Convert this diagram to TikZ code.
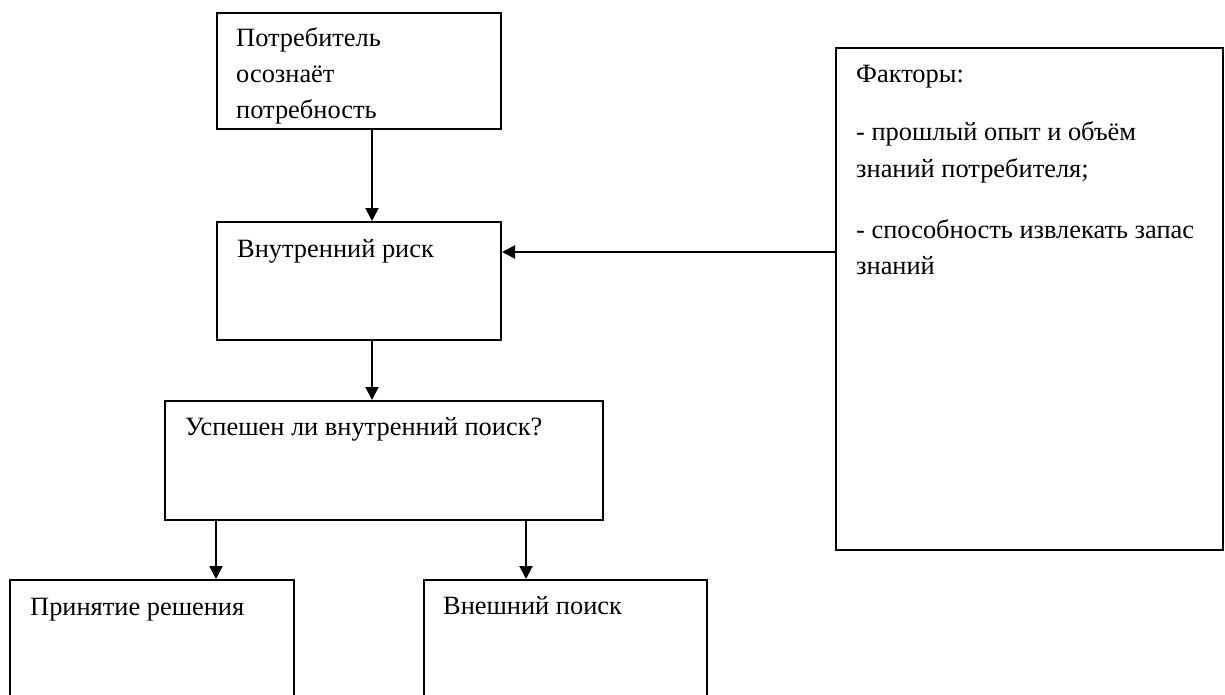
\documentclass[tikz,border=0pt]{standalone}
\usepackage{fontspec}
\setmainfont{Liberation Serif}
\usetikzlibrary{arrows.meta}
\begin{document}
\begin{tikzpicture}[x=1pt,y=-1pt,
  box/.style={draw=black, line width=2pt, inner sep=0pt, anchor=north west},
  txt/.style={anchor=base west, inner sep=0pt, font=\fontsize{26.4}{36}\selectfont},
  link/.style={line width=2pt, -{Triangle[length=13pt,width=13pt]}}]
\useasboundingbox (0,0) rectangle (1225,694);
\clip (0,0) rectangle (1225,694);
\fill[white] (0,0) rectangle (1225,694);

% boxes
\node[box, minimum width=284pt, minimum height=116pt] (need) at (216,12) {};
\node[box, minimum width=284pt, minimum height=118pt] (risk) at (216,221) {};
\node[box, minimum width=438pt, minimum height=119pt] (search) at (164,400) {};
\node[box, minimum width=284pt, minimum height=140pt] (decide) at (9,579) {};
\node[box, minimum width=283pt, minimum height=140pt] (external) at (423,579) {};
\node[box, minimum width=387pt, minimum height=502pt] (factors) at (835,47) {};

% texts
\node[txt] (t1a) at (236,46) {Потребитель};
\node[txt] (t1b) at (236,82) {осознаёт};
\node[txt] (t1c) at (236,118) {потребность};
\node[txt] (t2) at (237,257) {Внутренний риск};
\node[txt] (t3) at (185,435) {Успешен ли внутренний поиск?};
\node[txt] (t4) at (30,615) {Принятие решения};
\node[txt] (t5) at (443,614) {Внешний поиск};
\node[txt] (f0) at (856,82) {Факторы:};
\node[txt] (f1) at (856,140) {- прошлый опыт и объём};
\node[txt] (f2) at (856,177) {знаний потребителя;};
\node[txt] (f3) at (856,238) {- способность извлекать запас};
\node[txt] (f4) at (856,274) {знаний};

% connectors
\draw[link] ([xshift=13pt]need.south) -- ([xshift=13pt]risk.north);
\draw[link] ([xshift=13pt]risk.south) -- ([xshift=13pt]risk.south |- search.north);
\draw[link] ([xshift=52pt]search.south west) -- ([xshift=52pt]search.south west |- decide.north);
\draw[link] ([xshift=362pt]search.south west) -- ([xshift=362pt]search.south west |- external.north);
\draw[link] ([yshift=-205pt]factors.north west) -- ([yshift=-205pt]factors.north west -| risk.east);
\end{tikzpicture}
\end{document}
